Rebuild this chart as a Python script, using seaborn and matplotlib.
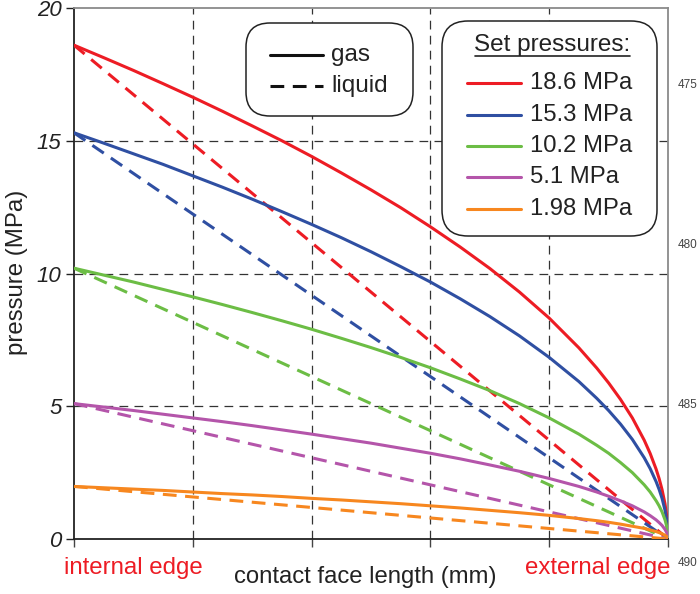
import numpy as np
import pandas as pd
import matplotlib
matplotlib.use("Agg")
import matplotlib.pyplot as plt
import seaborn as sns
from matplotlib.patches import FancyBboxPatch

sns.set_theme(style="white")
plt.rcParams['font.family'] = ['Liberation Sans', 'DejaVu Sans']

# ---- data ----
x_pos = [0, 0.05, 0.1, 0.15, 0.2, 0.25, 0.3, 0.35, 0.4, 0.45, 0.5, 0.55, 0.6, 0.65, 0.7, 0.75,
         0.8, 0.85, 0.88, 0.9, 0.92, 0.94, 0.96, 0.97, 0.98, 0.985, 0.99, 0.995, 0.998, 1.0]
gas_186 = [18.6, 18.13, 17.65, 17.15, 16.64, 16.11, 15.56, 15.00, 14.41, 13.79, 13.15, 12.48, 11.76, 11.00, 10.19,
           9.30, 8.32, 7.20, 6.44, 5.88, 5.26, 4.56, 3.72, 3.22, 2.63, 2.28, 1.86, 1.32, 0.83, 0]
gas_153 = [15.3, 14.91, 14.51, 14.11, 13.68, 13.25, 12.80, 12.33, 11.85, 11.35, 10.82, 10.26, 9.68, 9.05, 8.38,
           7.65, 6.84, 5.93, 5.30, 4.84, 4.33, 3.75, 3.06, 2.65, 2.16, 1.87, 1.53, 1.08, 0.68, 0]
gas_102 = [10.2, 9.94, 9.68, 9.40, 9.12, 8.83, 8.53, 8.22, 7.90, 7.56, 7.21, 6.84, 6.45, 6.03, 5.59,
           5.10, 4.56, 3.95, 3.53, 3.23, 2.88, 2.50, 2.04, 1.77, 1.44, 1.25, 1.02, 0.72, 0.46, 0]
gas_51 = [5.1, 4.97, 4.84, 4.70, 4.56, 4.42, 4.27, 4.11, 3.95, 3.78, 3.61, 3.42, 3.23, 3.02, 2.79,
          2.55, 2.28, 1.98, 1.77, 1.61, 1.44, 1.25, 1.02, 0.88, 0.72, 0.62, 0.51, 0.36, 0.23, 0]
gas_198 = [1.98, 1.93, 1.88, 1.83, 1.77, 1.71, 1.66, 1.60, 1.53, 1.47, 1.40, 1.33, 1.25, 1.17, 1.08,
           0.99, 0.89, 0.77, 0.69, 0.63, 0.56, 0.48, 0.40, 0.34, 0.28, 0.24, 0.20, 0.14, 0.09, 0]
liq_x = [0, 1.0]
set_pressures = [18.6, 15.3, 10.2, 5.1, 1.98]
labels = ["18.6 MPa", "15.3 MPa", "10.2 MPa", "5.1 MPa", "1.98 MPa"]
colors = ["#ED1C24", "#2F4FA2", "#6CBD45", "#B455AA", "#F7871F"]
gas_series = [gas_186, gas_153, gas_102, gas_51, gas_198]
yticks = [0, 5, 10, 15, 20]
line_numbers = ["475", "480", "485", "490"]

W, H = 700, 594
fig = plt.figure(figsize=(W / 100, H / 100), dpi=100)
L, R, T, B = 74, 668, 8, 539
ax = fig.add_axes([L / W, (H - B) / H, (R - L) / W, (B - T) / H])
ax.set_facecolor("white")

# grid
for gx in [0.2, 0.4, 0.6, 0.8]:
    ax.axvline(gx, color="#333333", lw=0.9, dashes=(7, 5), zorder=1)
for gy in [5, 10, 15]:
    ax.axhline(gy, color="#333333", lw=0.9, dashes=(7, 5), zorder=1)

for P, g, c in zip(set_pressures, gas_series, colors):
    sns.lineplot(x=x_pos, y=g, color=c, lw=2.2, ax=ax, zorder=3, sort=False)
    sns.lineplot(x=liq_x, y=[P, 0], color=c, lw=2.2, ax=ax, zorder=3,
                 dashes=False, linestyle=(0, (4.5, 2.8)), sort=False)

ax.set_xlim(0, 1)
ax.set_ylim(0, 20)
ax.set_yticks(yticks)
ax.set_yticklabels([str(t) for t in yticks], fontstyle="italic", fontsize=16, color="#222222")
ax.set_xticks([0, 0.2, 0.4, 0.6, 0.8, 1.0])
ax.set_xticklabels([])
ax.tick_params(axis="y", direction="out", length=6, width=1, color="#222222", left=True, pad=3)
ax.tick_params(axis="x", direction="out", length=6, width=1, color="#444444", bottom=True)
for s in ["left", "bottom"]:
    ax.spines[s].set_color("#222222")
    ax.spines[s].set_linewidth(1.3)
for s in ["top", "right"]:
    ax.spines[s].set_color("#8a8a8a")
    ax.spines[s].set_linewidth(1.3)
ax.set_xlabel("")
ax.set_ylabel("")

fig.text(17 / W, 1 - 272 / H, "pressure (MPa)", rotation=90, ha="center", va="center",
         fontsize=17.3, color="#222222")
fig.text(365 / W, 1 - 577 / H, "contact face length (mm)", ha="center", va="center",
         fontsize=17.2, color="#222222")
fig.text(133 / W, 1 - 568 / H, "internal edge", ha="center", va="center",
         fontsize=17.3, color="#ED1C24")
fig.text(598 / W, 1 - 568 / H, "external edge", ha="center", va="center",
         fontsize=17.3, color="#ED1C24")
for ln, py in zip(line_numbers, [85, 245, 405, 563]):
    fig.text(678 / W, 1 - py / H, ln, ha="left", va="center", fontsize=8.5, color="#444444")

# legend boxes (drawn in pixel-derived figure coords)
def rbox(x0, y0, x1, y1, r):
    p = FancyBboxPatch((x0 / W, 1 - y1 / H), (x1 - x0) / W, (y1 - y0) / H,
                       boxstyle=f"round,pad=0,rounding_size={r / W}",
                       transform=fig.transFigure, facecolor="white",
                       edgecolor="#222222", lw=1.1, zorder=10,
                       mutation_aspect=W / H)
    fig.add_artist(p)

def fline(x0, x1, y, **kw):
    fig.add_artist(plt.Line2D([x0 / W, x1 / W], [1 - y / H, 1 - y / H],
                              transform=fig.transFigure, zorder=11, **kw))

rbox(246, 23, 413, 116, 24)
fline(270, 323, 55, color="#111111", lw=2.2)
fline(270, 323, 86, color="#111111", lw=2.2, linestyle=(0, (4.5, 2.8)))
fig.text(331 / W, 1 - 55 / H, "gas", ha="left", va="center", fontsize=17.5, color="#222222", zorder=12)
fig.text(331 / W, 1 - 86 / H, "liquid", ha="left", va="center", fontsize=17.5, color="#222222", zorder=12)

rbox(442, 21, 657, 236, 26)
fig.text(552 / W, 1 - 45 / H, "Set pressures:", ha="center", va="center", fontsize=17.5,
         color="#222222", zorder=12)
fline(475, 630, 56, color="#222222", lw=1.2)
for lab, c, py in zip(labels, colors, [83, 115, 146, 177, 209]):
    fline(467, 521, py, color=c, lw=2.2)
    fig.text(530 / W, 1 - py / H, lab, ha="left", va="center", fontsize=17.2,
             color="#222222", zorder=12)

fig.savefig("out.png", dpi=100)
